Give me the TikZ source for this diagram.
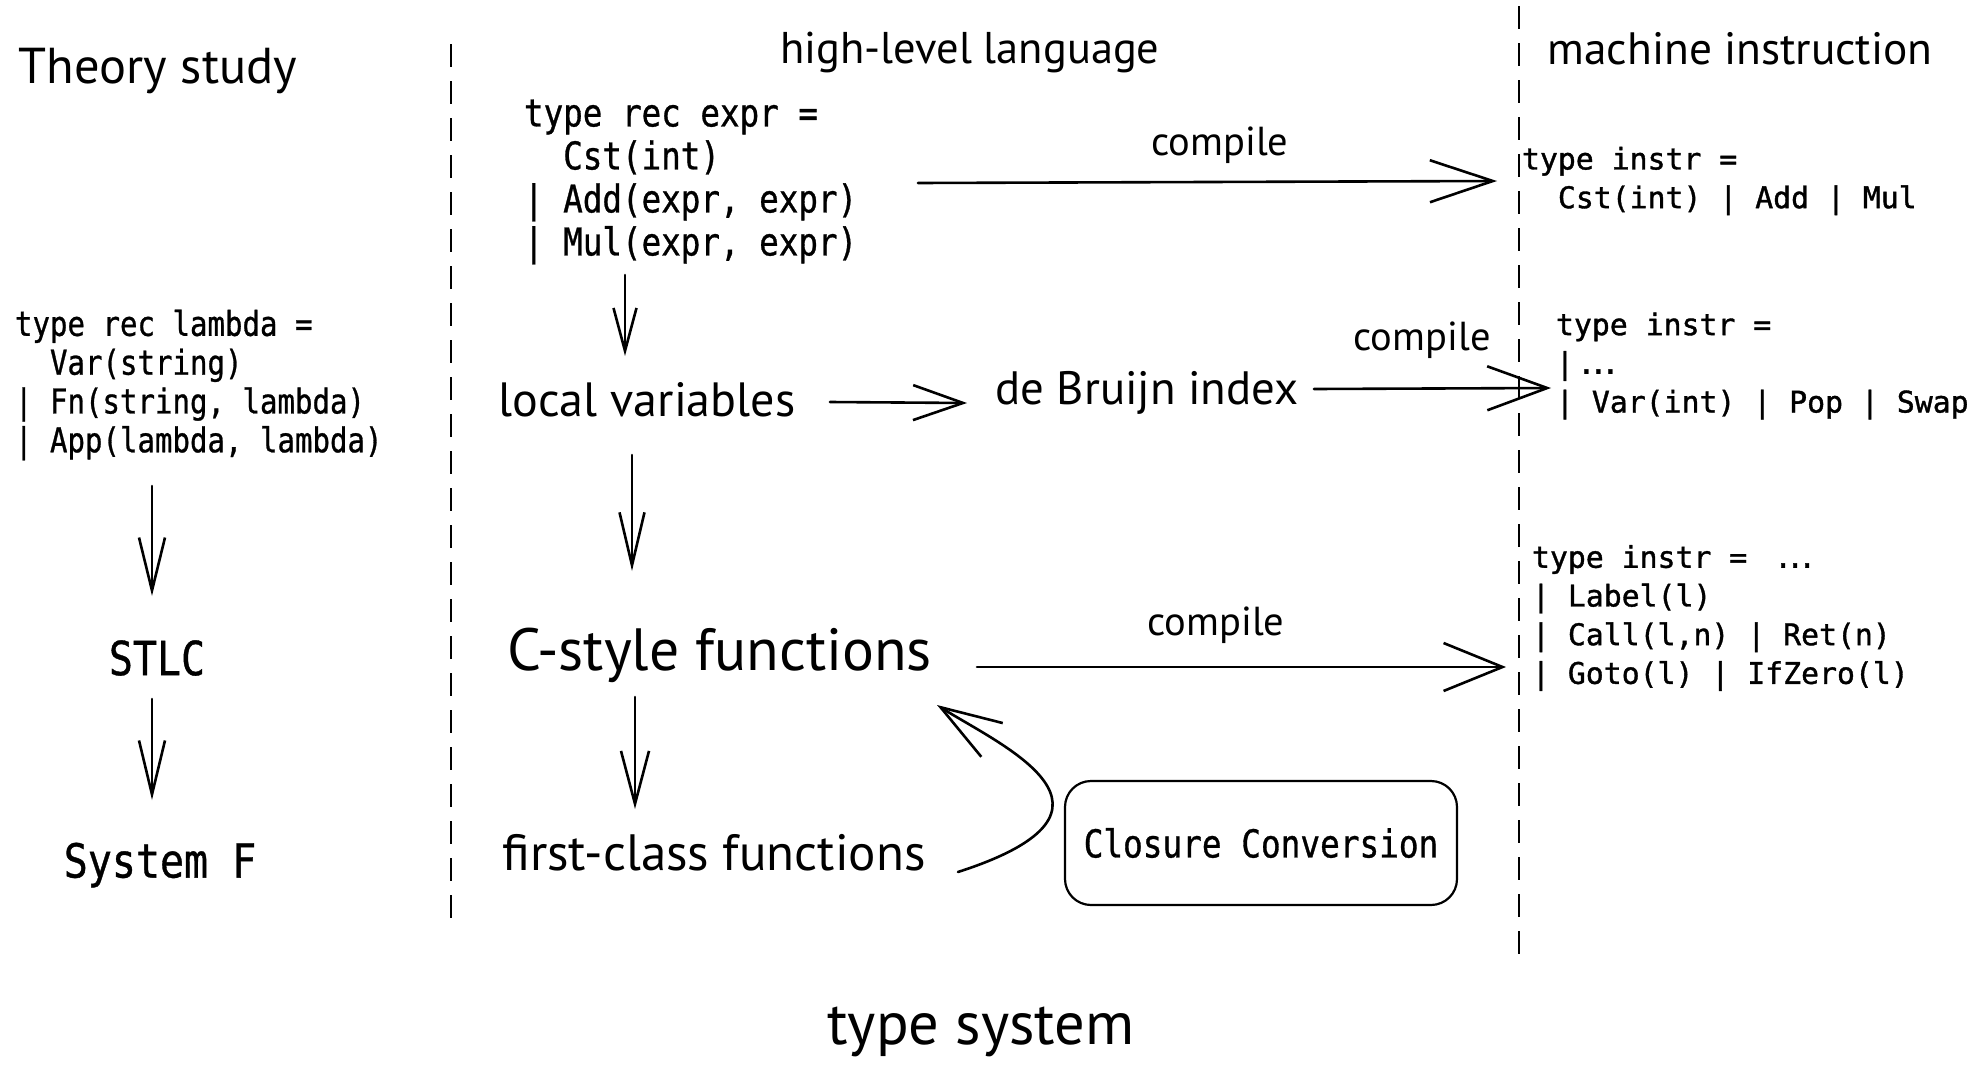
\documentclass[tikz,border=0pt]{standalone}
\usepackage{fontspec}
\usetikzlibrary{arrows.meta,calc}
\newfontfamily\handfont{PT Sans}
\newfontfamily\codefont[FakeStretch=0.85,FakeBold=0.8]{DejaVu Sans Mono}
\newfontfamily\instrfont[FakeBold=1.2]{DejaVu Sans Mono}
% hand-lettered labels, scaled to a given width
\newcommand\hw[2]{\resizebox{#1pt}{!}{\handfont\fontsize{40}{48}\selectfont #2}}
% tightly set three dots used in the instruction listings
\newcommand\ellip{.\kern-0.2em.\kern-0.2em.}

\begin{document}
\begin{tikzpicture}[x=1pt,y=-1pt,
  every node/.style={inner sep=0pt, outer sep=0pt},
  codeA/.style={align=left, font={\codefont\fontsize{38.3}{43}\selectfont}},
  codeB/.style={align=left, font={\codefont\fontsize{34.2}{38.8}\selectfont}},
  codeC/.style={font={\codefont\fontsize{47}{52}\selectfont}},
  instr/.style={align=left, font={\instrfont\fontsize{29.8}{38.7}\selectfont}},
  link/.style 2 args={line width=2.6pt, line cap=round,
    -{Straight Barb[length=#1pt, width=#2pt]}},
  divider/.style={line width=2.5pt, dash pattern=on 23pt off 14pt},
  convbox/.style={draw, line width=2.2pt, rounded corners=26pt,
    minimum width=392pt, minimum height=124pt,
    font={\codefont\fontsize{38.5}{44}\selectfont}},
]
\path[use as bounding box, fill=white] (0,0) rectangle (1981,1068);

% column dividers
\draw[divider] (451,44) -- (451,929);
\draw[divider] (1519,6) -- (1519,960);

% column headings
\node (theory) at (158,71) {\hw{278}{Theory study}};
\node (highlevel) at (970,52) {\hw{379}{high-level language}};
\node (machine) at (1740,49) {\hw{385}{machine instruction}};

% theory column
\node[codeB, anchor=west] (lambda) at (15,385)
  {type rec lambda =\\\hphantom{| }Var(string)\\| Fn(string, lambda)\\| App(lambda, lambda)};
\node[codeC] (stlc) at (157,658) {STLC};
\node[codeC] (sysf) at (160,865) {System F};

% high-level language column
\node[codeA, anchor=west] (expr) at (524,182)
  {type rec expr =\\\hphantom{| }Cst(int)\\| Add(expr, expr)\\| Mul(expr, expr)};
\node (localvars) at (647,400) {\hw{297}{local variables}};
\node (debruijn) at (1147,393) {\hw{303}{de Bruijn index}};
\node (cstyle) at (720,655) {\hw{424}{C-style functions}};
\node (firstclass) at (714,853) {\hw{423}{first-class functions}};
\node[convbox] (closure) at (1261,843) {Closure Conversion};
\node (typesys) at (981,1032) {\hw{307}{type system}};

% machine instruction column
\node[instr, anchor=west] (instr1) at (1522,181)
  {type instr =\\\hphantom{xx}Cst(int) | Add | Mul};
\node[instr, anchor=west] (instr2) at (1556,366)
  {type instr =\\|\kern0.12em\ellip\\| Var(int) | Pop | Swap};
\node[instr, anchor=west] (instr3) at (1532,618)
  {type instr = \kern0.3em\ellip\\| Label(l)\\| Call(l,n) | Ret(n)\\| Goto(l) | IfZero(l)};

% compile labels
\node (comp1) at (1220,145) {\hw{137}{compile}};
\node (comp2) at (1422,340) {\hw{137}{compile}};
\node (comp3) at (1216,625) {\hw{137}{compile}};

% theory arrows
\draw[link={53}{26}] ([shift={(137,101)}]lambda.west) -- ([shift={(-5,-62)}]stlc.center);
\draw[link={54}{26}] ([shift={(-5,41)}]stlc.center) -- ([shift={(-8,-65)}]sysf.center);

% refinement arrows
\draw[link={43}{23}] ([shift={(101,93)}]expr.west) -- ([shift={(-22,-44)}]localvars.center);
\draw[link={50}{35}] ([shift={(183,2)}]localvars.center) -- ([shift={(-180,10)}]debruijn.center);
\draw[link={53}{25}] ([shift={(-15,55)}]localvars.center) -- ([shift={(-88,-84)}]cstyle.center);
\draw[link={53}{28}] ([shift={(-85,42)}]cstyle.center) -- ([shift={(-79,-44)}]firstclass.center);

% compile arrows
\draw[link={63}{42}] ([shift={(394,1)}]expr.west) -- ([shift={(-25,0)}]instr1.west);
\draw[link={60}{44}] ([shift={(167,-4)}]debruijn.center) -- ([shift={(-5,22)}]instr2.west);
\draw[link={59}{48}] ([shift={(257,12)}]cstyle.center) -- ([shift={(-26,49)}]instr3.west);

% closure conversion loop
\draw[link={61}{40}] ([shift={(244,19)}]firstclass.center)
  .. controls ([shift={(436,-43)}]firstclass.center) and ([shift={(280,90)}]cstyle.center)
  .. ([shift={(217,50)}]cstyle.center);
\end{tikzpicture}
\end{document}
